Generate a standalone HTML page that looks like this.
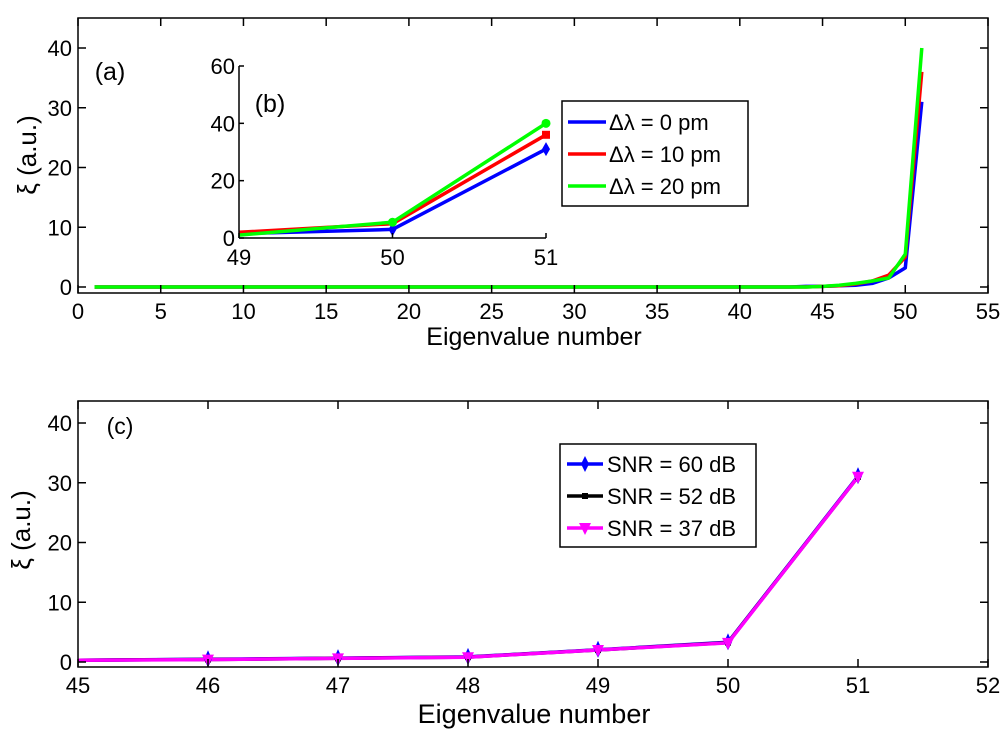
<!DOCTYPE html>
<html><head><meta charset="utf-8">
<style>
html,body{margin:0;padding:0;background:#fff;}
svg{display:block;font-family:"Liberation Sans",Arial,sans-serif;}
</style></head>
<body>
<svg id="chart" width="1008" height="734" viewBox="0 0 1008 734" xmlns="http://www.w3.org/2000/svg"></svg>
<script>
// ---- data: panel (a) ----
const aX = [1,2,3,4,5,6,7,8,9,10,11,12,13,14,15,16,17,18,19,20,21,22,23,24,25,26,27,28,29,30,31,32,33,34,35,36,37,38,39,40,41,42,43,44,45,46,47,48,49,50,51];
const aBlue  = [0,0,0,0,0,0,0,0,0,0,0,0,0,0,0,0,0,0,0,0,0,0,0,0,0,0,0,0,0,0,0,0,0,0,0,0,0,0,0,0,0,0,0,0.1,0.1,0.2,0.3,0.6,1.5,3.2,31];
const aRed   = [0,0,0,0,0,0,0,0,0,0,0,0,0,0,0,0,0,0,0,0,0,0,0,0,0,0,0,0,0,0,0,0,0,0,0,0,0,0,0,0,0,0,0,0,0.1,0.2,0.5,1,2,5,36];
const aGreen = [0,0,0,0,0,0,0,0,0,0,0,0,0,0,0,0,0,0,0,0,0,0,0,0,0,0,0,0,0,0,0,0,0,0,0,0,0,0,0,0,0,0,0,0,0.1,0.3,0.6,1,1.5,5.5,40];
const aXTicks = [0,5,10,15,20,25,30,35,40,45,50,55];
const aYTicks = [0,10,20,30,40];
// ---- data: inset (b) ----
const bX = [49,50,51];
const bBlue = [1.5,3,31];
const bRed = [2,5,36];
const bGreen = [1,5.5,40];
const bXTicks = [49,50,51];
const bYTicks = [0,20,40,60];
// ---- data: panel (c) ----
const cX = [45,46,47,48,49,50,51];
const c60 = [0.3,0.45,0.65,0.85,2.05,3.3,31.1];
const c52 = [0.3,0.42,0.62,0.82,2,3.25,31];
const c37 = [0.3,0.4,0.6,0.8,2,3.2,31];
const cXTicks = [45,46,47,48,49,50,51,52];
const cYTicks = [0,10,20,30,40];
const legendA = ["\u0394\u03bb = 0 pm","\u0394\u03bb = 10 pm","\u0394\u03bb = 20 pm"];
const legendC = ["SNR = 60 dB","SNR = 52 dB","SNR = 37 dB"];

const NS="http://www.w3.org/2000/svg";
const svg=document.getElementById('chart');
function mk(tag,attrs,parent){const e=document.createElementNS(NS,tag);for(const k in attrs)e.setAttribute(k,attrs[k]);(parent||svg).appendChild(e);return e;}
function lin(d0,d1,r0,r1){return v=>r0+(v-d0)*(r1-r0)/(d1-d0);}
function txt(s,x,y,size,anchor,parent){const t=mk('text',{x:x,y:y,'font-size':size,'text-anchor':anchor||'middle',fill:'#000'},parent);t.textContent=s;return t;}
function poly(xs,ys,sx,sy,color,w,parent){const p=xs.map((v,i)=>sx(v).toFixed(1)+','+sy(ys[i]).toFixed(1)).join(' ');return mk('polyline',{points:p,fill:'none',stroke:color,'stroke-width':w,'stroke-linejoin':'round'},parent);}

// ===== Panel (a) =====
const gA=mk('g',{});


const axL=78,axR=988,aT=18,aB=293;
const ax=lin(0,55,axL,axR), ay=lin(0,40,287,48);
const la=poly(aX,aBlue,ax,ay,'#0000ff',3.5,gA);


const lb=poly(aX,aRed,ax,ay,'#ff0000',3.5,gA);


const lc=poly(aX,aGreen,ax,ay,'#00ff00',3.5,gA);


const boxA=mk('rect',{x:axL,y:aT,width:axR-axL,height:aB-aT,fill:'none',stroke:'#000','stroke-width':1.5},gA);


aXTicks.forEach(v=>{const x=ax(v);mk('line',{x1:x,y1:aB,x2:x,y2:aB-8,stroke:'#000','stroke-width':1.5},gA);mk('line',{x1:x,y1:aT,x2:x,y2:aT+8,stroke:'#000','stroke-width':1.5},gA);
 const t=txt(String(v),x,319,22,'middle',gA);});
aYTicks.forEach(v=>{const y=ay(v);mk('line',{x1:axL,y1:y,x2:axL+8,y2:y,stroke:'#000','stroke-width':1.5},gA);mk('line',{x1:axR,y1:y,x2:axR-8,y2:y,stroke:'#000','stroke-width':1.5},gA);
 const t=txt(String(v),axL-6,y+8,22,'end',gA);});
let t=txt('Eigenvalue number',534,345,25,'middle',gA);


t=mk('text',{x:0,y:0,'font-size':26,'text-anchor':'middle',transform:'translate(36,155) rotate(-90)'},gA);
t.textContent='\u03be (a.u.)';


t=txt('(a)',110,80,25,'middle',gA);



// ===== Inset (b) =====
const gB=mk('g',{});


const bL=239,bR=546,bBot=238,bTop=66;
const bx=lin(49,51,bL,bR), by=lin(0,60,bBot,bTop);
const i1=poly(bX,bBlue,bx,by,'#0000ff',3.5,gB);


const i2=poly(bX,bRed,bx,by,'#ff0000',3.5,gB);


const i3=poly(bX,bGreen,bx,by,'#00ff00',3.5,gB);


[1,2].forEach(i=>{
 const x=bx(bX[i]),y=by(bBlue[i]);
 const d=mk('polygon',{points:`${x},${y-7} ${x+4},${y} ${x},${y+7} ${x-4},${y}`,fill:'#0000ff'},gB);
 
});
{const x=bx(bX[2]),y=by(bRed[2]);const r=mk('rect',{x:x-4,y:y-4,width:8,height:8,fill:'#ff0000'},gB);
 }
[1,2].forEach(i=>{const c=mk('circle',{cx:bx(bX[i]),cy:by(bGreen[i]),r:4.5,fill:'#00ff00'},gB);
 });
mk('line',{x1:bL,y1:bTop,x2:bL,y2:bBot,stroke:'#000','stroke-width':1.5},gB);
mk('line',{x1:bL,y1:bBot,x2:bR,y2:bBot,stroke:'#000','stroke-width':1.5},gB);
bXTicks.forEach(v=>{const x=bx(v);mk('line',{x1:x,y1:bBot,x2:x,y2:bBot-5,stroke:'#000','stroke-width':1.5},gB);
 const tt=txt(String(v),x,265,22,'middle',gB);});
bYTicks.forEach(v=>{const y=by(v);mk('line',{x1:bL,y1:y,x2:bL+5,y2:y,stroke:'#000','stroke-width':1.5},gB);
 const tt=txt(String(v),bL-4,y+8,22,'end',gB);});
t=txt('(b)',270,112,25,'middle',gB);



// legend a
const lgA=mk('g',{});


mk('rect',{x:562,y:101,width:186,height:105,fill:'#fff',stroke:'#000','stroke-width':1.5},lgA);
['#0000ff','#ff0000','#00ff00'].forEach((c,i)=>{const y=122+i*32;
 const e=mk('g',{},lgA);
 mk('line',{x1:568,y1:y,x2:606,y2:y,stroke:c,'stroke-width':3.5},e);
 txt(legendA[i],609,y+8,22,'start',e);});

// ===== Panel (c) =====
const gC=mk('g',{});


const cL=78,cR=988,cT=401,cB=667;
const cx=lin(45,52,cL,cR), cy=lin(0,40,662,423);
const s1=poly(cX,c60,cx,cy,'#0000ff',3.5,gC);


const s2=poly(cX,c52,cx,cy,'#000000',3.5,gC);


const s3=poly(cX,c37,cx,cy,'#ff00ff',3.5,gC);


cX.forEach((v,i)=>{
 if(i===0) return;
 const x=cx(v);
 let y=cy(c60[i]);
 const d=mk('polygon',{points:`${x},${y-9} ${x+4},${y} ${x},${y+8} ${x-4},${y}`,fill:'#0000ff'},gC);
 
 y=cy(c52[i]);
 const s=mk('rect',{x:x-3,y:y-3,width:6,height:6,fill:'#000'},gC);
 
 y=cy(c37[i]);
 const tr=mk('polygon',{points:`${x-6},${y-5} ${x+6},${y-5} ${x},${y+7}`,fill:'#ff00ff'},gC);
 
});
const boxC=mk('rect',{x:cL,y:cT,width:cR-cL,height:cB-cT,fill:'none',stroke:'#000','stroke-width':1.5},gC);


cXTicks.forEach(v=>{const x=cx(v);mk('line',{x1:x,y1:cB,x2:x,y2:cB-8,stroke:'#000','stroke-width':1.5},gC);mk('line',{x1:x,y1:cT,x2:x,y2:cT+8,stroke:'#000','stroke-width':1.5},gC);
 const tt=txt(String(v),x,693,22,'middle',gC);});
cYTicks.forEach(v=>{const y=cy(v);mk('line',{x1:cL,y1:y,x2:cL+8,y2:y,stroke:'#000','stroke-width':1.5},gC);mk('line',{x1:cR,y1:y,x2:cR-8,y2:y,stroke:'#000','stroke-width':1.5},gC);
 const tt=txt(String(v),cL-6,y+8,22,'end',gC);});
t=txt('Eigenvalue number',534,723,27,'middle',gC);


t=mk('text',{x:0,y:0,'font-size':26,'text-anchor':'middle',transform:'translate(30,530) rotate(-90)'},gC);
t.textContent='\u03be (a.u.)';


t=txt('(c)',120,434,23,'middle',gC);



// legend c
const lgC=mk('g',{});


mk('rect',{x:560,y:444,width:196,height:103,fill:'#fff',stroke:'#000','stroke-width':1.5},lgC);
['#0000ff','#000000','#ff00ff'].forEach((c,i)=>{const y=464+i*32;
 const e=mk('g',{},lgC);
 mk('line',{x1:567,y1:y,x2:603,y2:y,stroke:c,'stroke-width':3.5},e);
 const x=585;
 if(i===0) mk('polygon',{points:`${x},${y-8} ${x+4},${y} ${x},${y+8} ${x-4},${y}`,fill:c},e);
 if(i===1) mk('rect',{x:x-3,y:y-3,width:6,height:6,fill:c},e);
 if(i===2) mk('polygon',{points:`${x-6},${y-5} ${x+6},${y-5} ${x},${y+7}`,fill:c},e);
 txt(legendC[i],607,y+8,22,'start',e);});
</script>
</body></html>
